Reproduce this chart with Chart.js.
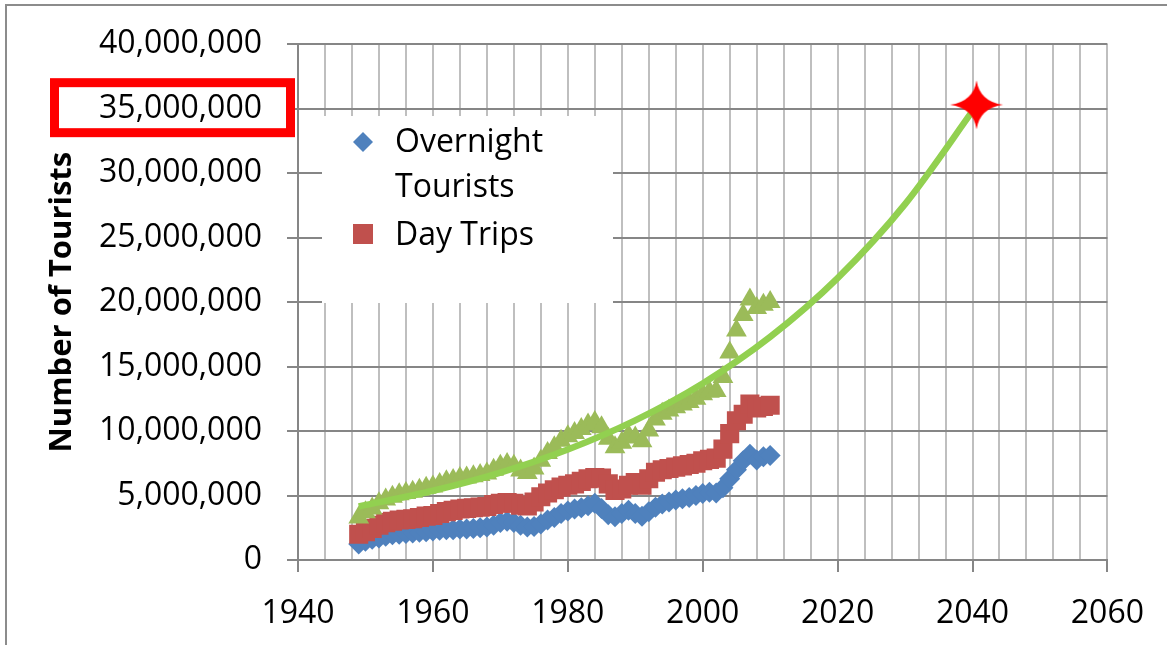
<!DOCTYPE html>
<html>
<head>
<meta charset="utf-8">
<script src="https://cdn.jsdelivr.net/npm/chart.js@4.4.1/dist/chart.umd.min.js"></script>
<style>
html,body{margin:0;padding:0;background:#fff;}
#wrap{width:1167px;height:645px;position:relative;}
</style>
</head>
<body>
<div id="wrap"><canvas id="c" width="1167" height="645"></canvas></div>
<script>
// ---- Data ----
const years = [1949,1950,1951,1952,1953,1954,1955,1956,1957,1958,1959,1960,1961,1962,1963,1964,1965,1966,1967,1968,1969,1970,1971,1972,1973,1974,1975,1976,1977,1978,1979,1980,1981,1982,1983,1984,1985,1986,1987,1988,1989,1990,1991,1992,1993,1994,1995,1996,1997,1998,1999,2000,2001,2002,2003,2004,2005,2006,2007,2008,2009,2010];
const overnightTourists = [1.25,1.45,1.6,1.7,1.85,1.95,2.0,2.05,2.1,2.15,2.2,2.25,2.3,2.35,2.35,2.4,2.4,2.45,2.5,2.55,2.7,2.9,3.0,2.9,2.7,2.55,2.6,2.8,3.1,3.3,3.6,3.8,3.95,4.05,4.2,4.4,4.0,3.5,3.35,3.6,3.85,3.6,3.4,3.75,4.1,4.35,4.5,4.65,4.75,4.85,5.0,5.15,5.25,5.2,5.6,6.3,7.0,7.7,8.2,7.75,8.0,8.1].map(v => v * 1e6);
const dayTrips = [2.0,2.2,2.45,2.7,2.9,3.0,3.1,3.15,3.2,3.3,3.4,3.45,3.6,3.75,3.85,3.95,4.0,4.05,4.1,4.15,4.3,4.4,4.45,4.4,4.25,4.2,4.5,4.9,5.2,5.45,5.65,5.8,5.9,6.1,6.3,6.4,6.35,5.9,5.4,5.5,5.8,6.0,5.8,6.3,6.8,7.0,7.1,7.2,7.3,7.4,7.5,7.7,7.8,7.9,8.6,9.8,10.8,11.3,12.1,11.8,11.9,12.0].map(v => v * 1e6);
const totalTourists = [3.3,3.7,4.0,4.4,4.7,4.9,5.1,5.2,5.3,5.45,5.6,5.7,5.9,6.1,6.2,6.35,6.4,6.5,6.6,6.7,7.0,7.3,7.45,7.3,6.95,6.75,7.1,7.7,8.3,8.75,9.25,9.6,9.85,10.15,10.5,10.7,10.3,9.4,8.75,9.1,9.65,9.5,9.2,10.05,10.9,11.35,11.6,11.85,12.05,12.25,12.5,12.85,13.05,13.1,14.2,16.1,17.8,19.0,20.2,19.55,19.8,20.0].map(v => v * 1e6);
const trendYears = [1949,1960,1970,1980,1990,2000,2010,2020,2030,2040.6];
const trendValues = [4.15,5.37,6.78,8.57,10.83,13.69,17.3,21.86,27.6,35.25].map(v => v * 1e6);
const targetPoint = {year: 2040.6, value: 35.3e6};
const yTicks = [0,5e6,10e6,15e6,20e6,25e6,30e6,35e6,40e6];
const xTickLabels = [1940,1960,1980,2000,2020,2040,2060];
const legendLabels = ['Overnight', 'Tourists', 'Day Trips'];
const axisTitle = 'Number of Tourists';

const FONT = '"Open Sans", "DejaVu Sans", sans-serif';

function pts(xs, ys){ return xs.map((x,i)=>({x:x, y:ys[i]})); }

function makeStar(){
  const w = 56, h = 52;
  const c = document.createElement('canvas');
  c.width = w; c.height = h;
  const g = c.getContext('2d');
  const cx = w/2, cy = h/2, rx = 26.5, ry = 24.5, k = 3.2;
  g.fillStyle = '#FF0000';
  g.beginPath();
  g.moveTo(cx, cy - ry);
  g.quadraticCurveTo(cx + k, cy - k, cx + rx, cy);
  g.quadraticCurveTo(cx + k, cy + k, cx, cy + ry);
  g.quadraticCurveTo(cx - k, cy + k, cx - rx, cy);
  g.quadraticCurveTo(cx - k, cy - k, cx, cy - ry);
  g.closePath();
  g.fill();
  return c;
}

const decorPlugin = {
  id: 'decor',
  beforeDraw(chart){
    const ctx = chart.ctx;
    ctx.save();
    ctx.fillStyle = '#fff';
    ctx.fillRect(0,0,chart.width,chart.height);
    ctx.restore();
  },
  afterDraw(chart){
    const ctx = chart.ctx;
    const ys = chart.scales.y;
    ctx.save();
    // legend box
    ctx.fillStyle = '#fff';
    ctx.fillRect(322, 116, 291, 187);
    // diamond
    ctx.fillStyle = '#4F81BD';
    ctx.beginPath();
    ctx.moveTo(363, 132); ctx.lineTo(373, 142); ctx.lineTo(363, 152); ctx.lineTo(353, 142); ctx.closePath();
    ctx.fill();
    // square
    ctx.fillStyle = '#C0504D';
    ctx.fillRect(353, 224, 20, 20);
    ctx.fillStyle = '#000';
    ctx.font = '32px ' + FONT;
    ctx.textBaseline = 'alphabetic';
    ctx.textAlign = 'left';
    ctx.fillText(legendLabels[0], 395, 152);
    ctx.fillText(legendLabels[1], 395, 197);
    ctx.fillText(legendLabels[2], 395, 245);
    // red highlight box around the 35,000,000 label
    const yc = ys.getPixelForValue(35e6);
    ctx.strokeStyle = '#FF0000';
    ctx.lineWidth = 9;
    ctx.strokeRect(54.5, yc - 26, 236, 50);
    // outer frame (left and top edges visible)
    ctx.strokeStyle = '#8c8c8c';
    ctx.lineWidth = 2;
    ctx.strokeRect(6, 5, 1300, 800);
    ctx.restore();
  }
};

function build(){
  Chart.defaults.font.family = FONT;
  Chart.defaults.color = '#000';
  new Chart(document.getElementById('c'), {
    type: 'scatter',
    data: {
      datasets: [
        { label: 'Target', data: [{x: targetPoint.year, y: targetPoint.value}], pointStyle: makeStar(), order: 0 },
        { label: 'Trend', type: 'line', data: pts(trendYears, trendValues), borderColor: '#92D050', borderWidth: 6.5,
          pointRadius: 0, cubicInterpolationMode: 'monotone', fill: false, order: 1 },
        { label: 'Total', data: pts(years, totalTourists), pointStyle: 'triangle', pointRadius: 12,
          backgroundColor: '#9BBB59', borderColor: '#9BBB59', borderWidth: 0, order: 2 },
        { label: 'Day Trips', data: pts(years, dayTrips), pointStyle: 'rect', pointRadius: 13.5,
          backgroundColor: '#C0504D', borderColor: '#C0504D', borderWidth: 0, order: 3 },
        { label: 'Overnight Tourists', data: pts(years, overnightTourists), pointStyle: 'rectRot', pointRadius: 10.5,
          backgroundColor: '#4F81BD', borderColor: '#4F81BD', borderWidth: 0, order: 4 }
      ]
    },
    options: {
      responsive: false,
      animation: false,
      events: [],
      layout: { padding: { left: 0, top: 41, right: 57, bottom: 0 } },
      plugins: { legend: { display: false }, tooltip: { enabled: false } },
      scales: {
        x: {
          type: 'linear', min: 1940, max: 2060,
          afterFit(s){ s.height = 85; },
          ticks: {
            stepSize: 4, autoSkip: false, maxRotation: 0, padding: 23,
            font: { size: 32 },
            callback: v => (xTickLabels.includes(v) ? String(v) : '')
          },
          grid: {
            color: '#bfbfbf', lineWidth: 2, drawTicks: true, tickLength: 12,
            tickColor: ctx => (ctx.tick && xTickLabels.includes(ctx.tick.value) ? '#868686' : 'rgba(0,0,0,0)'),
            tickWidth: 2
          },
          border: { color: '#868686', width: 2 }
        },
        y: {
          min: 0, max: 40e6,
          afterFit(s){ s.width = 298; },
          afterBuildTicks(s){ s.ticks = yTicks.map(v => ({value: v})); },
          ticks: {
            padding: 25, font: { size: 32 },
            callback: v => Number(v).toLocaleString('en-US')
          },
          grid: { color: '#868686', lineWidth: 2, tickLength: 11, tickColor: '#868686' },
          border: { color: '#868686', width: 2 },
          title: { display: true, text: axisTitle, font: { size: 31, weight: 'bold' }, padding: { top: 44, bottom: 0 } }
        }
      }
    },
    plugins: [decorPlugin]
  });
}

if (document.fonts && document.fonts.load) {
  Promise.all([
    document.fonts.load('32px "Open Sans"'),
    document.fonts.load('bold 31px "Open Sans"')
  ]).then(build, build);
} else { build(); }
</script>
</body>
</html>
